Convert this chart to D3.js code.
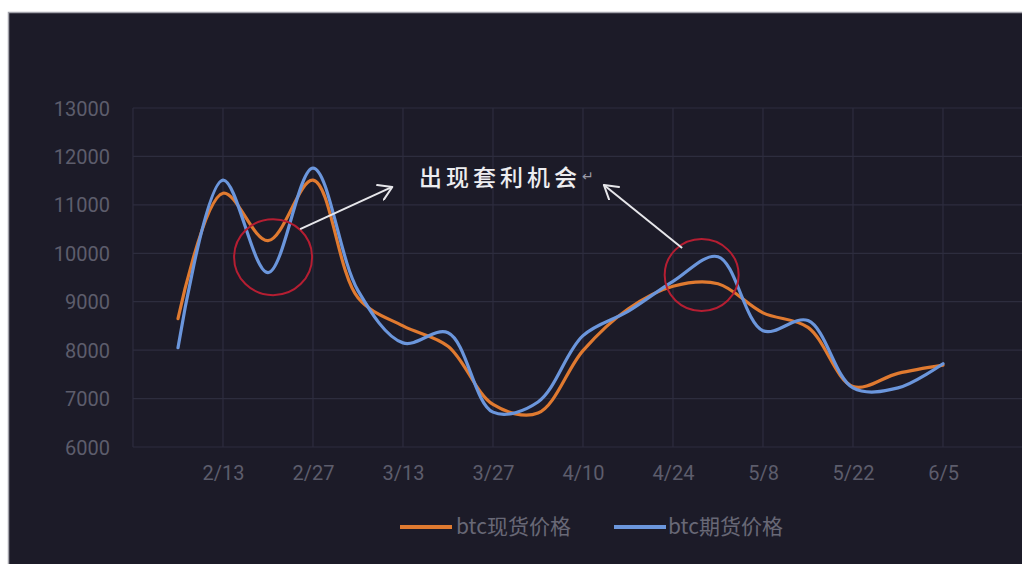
<!DOCTYPE html>
<html>
<head>
<meta charset="utf-8">
<script src="https://cdn.jsdelivr.net/npm/d3@7"></script>
<style>
  html, body { margin: 0; padding: 0; background: #ffffff; }
  svg { display: block; }
</style>
</head>
<body>
<svg id="chart" width="1022" height="564"></svg>
<script>
// ---- data ----
const dates = ["2018-02-06","2018-02-13","2018-02-20","2018-02-27","2018-03-06","2018-03-13","2018-03-20","2018-03-27","2018-04-03","2018-04-10","2018-04-17","2018-04-24","2018-05-01","2018-05-08","2018-05-15","2018-05-22","2018-05-29","2018-06-05"];
const spotPrice    = [8650, 11240, 10260, 11510, 9080, 8500, 8080, 6880, 6700, 7990, 8850, 9320, 9370, 8770, 8470, 7250, 7520, 7690];
const futuresPrice = [8050, 11510, 9600, 11760, 9230, 8150, 8360, 6720, 6930, 8300, 8800, 9420, 9930, 8400, 8610, 7220, 7220, 7720];
const seriesNames = ["btc现货价格", "btc期货价格"];
const seriesColors = ["#e07a30", "#6b96dc"];
const yTicks = [6000, 7000, 8000, 9000, 10000, 11000, 12000, 13000];
const xDomain = ["2018-01-30", "2018-06-19"];
const xLabelDates = ["2018-02-13","2018-02-27","2018-03-13","2018-03-27","2018-04-10","2018-04-24","2018-05-08","2018-05-22","2018-06-05"];
const annotationText = "出现套利机会";
// annotation anchors (data space): circle centers & arrow starts/ends
const circleAnchors = [{date: "2018-02-20T19:00", value: 9920}, {date: "2018-04-28T11:00", value: 9550}];
const arrowStarts = [{date: "2018-02-25T00:00", value: 10500}, {date: "2018-04-25T10:00", value: 10110}];
const arrowEnds = [{date: "2018-03-11T08:00", value: 11370}, {date: "2018-04-13T06:00", value: 11410}];

const parse = d3.isoParse;
const fmt = d3.timeFormat("%-m/%-d");

const svg = d3.select("#chart");
const W = 1022, H = 564;

// frame
svg.append("rect").attr("x", 0).attr("y", 0).attr("width", W).attr("height", H).attr("fill", "#ffffff");
svg.append("rect").attr("x", 8.5).attr("y", 12.5).attr("width", W).attr("height", H)
  .attr("fill", "#1c1b28").attr("stroke", "#a3a3ab").attr("stroke-width", 1.5);

const x = d3.scaleTime().domain(xDomain.map(d => parse(d + "T00:00"))).range([133, 1033]);
const y = d3.scaleLinear().domain([6000, 13000]).range([447, 108]);
const pd = d => parse(d.length === 10 ? d + "T00:00" : d);

// grid
const g = svg.append("g");
const gridDates = d3.range(0, 11).map(i => d3.timeDay.offset(pd(xDomain[0]), i * 14));
g.selectAll("line.v").data(gridDates).join("line")
  .attr("x1", d => x(d)).attr("x2", d => x(d))
  .attr("y1", y(13000)).attr("y2", y(6000))
  .attr("stroke", "#2d2d3e").attr("stroke-width", 1.2);
g.selectAll("line.h").data(yTicks).join("line")
  .attr("x1", 133).attr("x2", W)
  .attr("y1", d => y(d)).attr("y2", d => y(d))
  .attr("stroke", "#2d2d3e").attr("stroke-width", 1.2);

// y axis labels
const yAxis = d3.axisLeft(y).tickValues(yTicks).tickSize(0).tickPadding(0).tickFormat(d3.format("d"));
const ya = svg.append("g").attr("transform", "translate(110,0)").call(yAxis);
ya.select(".domain").remove();
ya.selectAll("text").attr("fill", "#5d5d6c").attr("font-size", 20)
  .attr("font-family", "Roboto, 'Liberation Sans', sans-serif").attr("dy", "0.35em");

// x axis labels
const xAxis = d3.axisBottom(x).tickValues(xLabelDates.map(pd)).tickSize(0).tickPadding(0).tickFormat(fmt);
const xa = svg.append("g").attr("transform", "translate(0,473)").call(xAxis);
xa.select(".domain").remove();
xa.selectAll("text").attr("fill", "#5d5d6c").attr("font-size", 20)
  .attr("font-family", "Roboto, 'Liberation Sans', sans-serif").attr("dy", "0.35em");

// lines
const line = d3.line().x(d => x(d.date)).y(d => y(d.v)).curve(d3.curveCatmullRom.alpha(0.5));
const series = [spotPrice, futuresPrice].map(vals => dates.map((d, i) => ({date: pd(d), v: vals[i]})));
series.forEach((s, i) => {
  svg.append("path").datum(s).attr("d", line).attr("fill", "none")
    .attr("stroke", seriesColors[i]).attr("stroke-width", 3.2)
    .attr("stroke-linejoin", "round").attr("stroke-linecap", "round");
});

// red circles
circleAnchors.forEach((c, i) => {
  svg.append("ellipse").attr("cx", x(pd(c.date))).attr("cy", y(c.value))
    .attr("rx", i === 0 ? 39 : 37).attr("ry", i === 0 ? 38 : 36)
    .attr("fill", "none").attr("stroke", "#b51e32").attr("stroke-width", 2);
});

// arrows
const defs = svg.append("defs");
defs.append("marker").attr("id", "arr").attr("viewBox", "-14 -9 16 18")
  .attr("refX", 0).attr("refY", 0).attr("markerWidth", 16).attr("markerHeight", 18)
  .attr("markerUnits", "userSpaceOnUse").attr("orient", "auto")
  .append("path").attr("d", "M-13,-8 L0,0 L-13,8").attr("fill", "none")
  .attr("stroke", "#e6e6ea").attr("stroke-width", 2).attr("stroke-linecap", "round").attr("stroke-linejoin", "round");
arrowStarts.forEach((s, i) => {
  const e = arrowEnds[i];
  svg.append("line")
    .attr("x1", x(pd(s.date))).attr("y1", y(s.value))
    .attr("x2", x(pd(e.date))).attr("y2", y(e.value))
    .attr("stroke", "#e6e6ea").attr("stroke-width", 2).attr("marker-end", "url(#arr)");
});

// annotation text
svg.append("text").attr("x", 419).attr("y", 186)
  .attr("font-family", "'Noto Sans CJK SC', sans-serif").attr("font-size", 23)
  .attr("font-weight", 500)
  .attr("letter-spacing", 4).attr("fill", "#ededf0").text(annotationText);
svg.append("text").attr("x", 582).attr("y", 181)
  .attr("font-family", "'DejaVu Sans', sans-serif").attr("font-size", 14)
  .attr("fill", "#9a9aa6").text("↵");

// legend
const legendItems = [{x: 400, tx: 456}, {x: 614, tx: 668}];
seriesNames.forEach((n, i) => {
  const L = legendItems[i];
  svg.append("line").attr("x1", L.x).attr("x2", L.x + 52).attr("y1", 527).attr("y2", 527)
    .attr("stroke", seriesColors[i]).attr("stroke-width", 4);
  svg.append("text").attr("x", L.tx).attr("y", 527).attr("dy", "0.35em")
    .attr("font-family", "'Noto Sans CJK SC', sans-serif").attr("font-size", 21)
    .attr("fill", "#686876").text(n);
});
</script>
</body>
</html>
